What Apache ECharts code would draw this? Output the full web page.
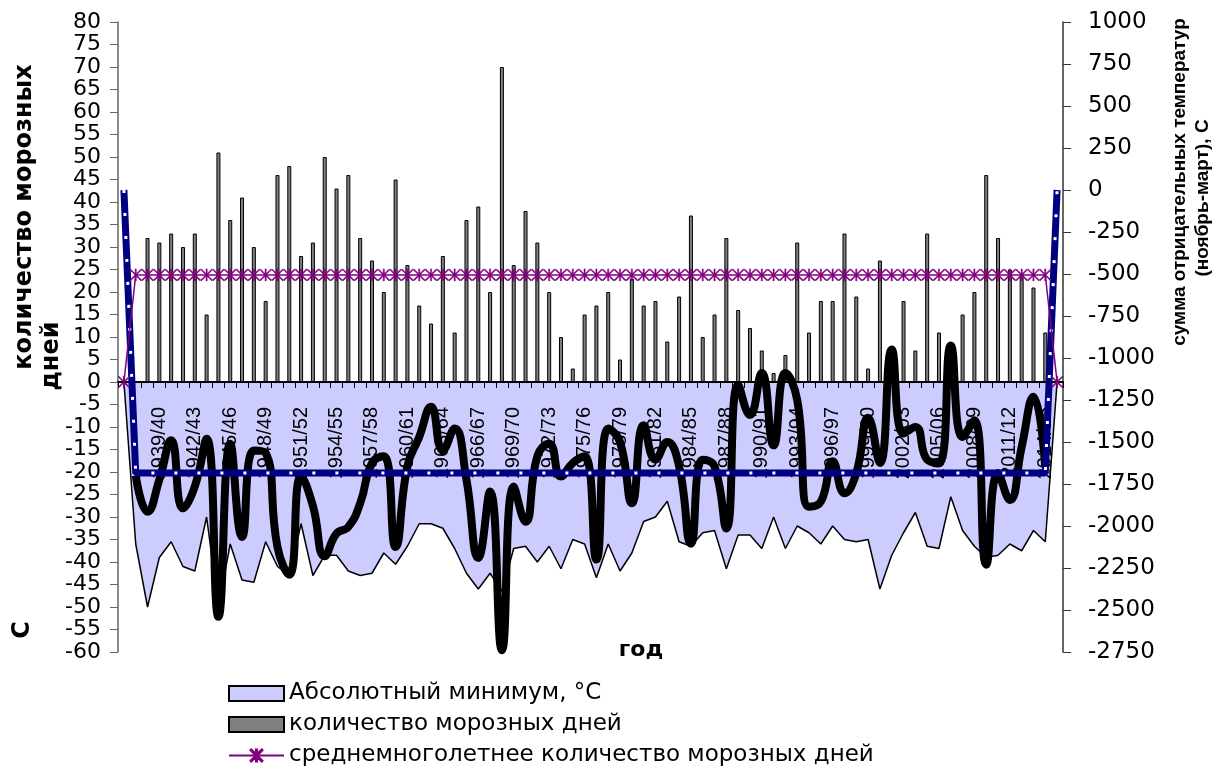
<!DOCTYPE html>
<html>
<head>
<meta charset="utf-8">
<script src="https://cdn.jsdelivr.net/npm/echarts@6/dist/echarts.min.js"></script>
<style>
html, body { margin: 0; padding: 0; background: #fff; }
#chart { width: 1224px; height: 775px; }
</style>
</head>
<body>
<div id="chart"></div>
<script>
// сезоны (ноябрь-март)
var seasons = [
    '1936/37', '1937/38', '1938/39', '1939/40', '1940/41', '1941/42', '1942/43', '1943/44', '1944/45', '1945/46',
    '1946/47', '1947/48', '1948/49', '1949/50', '1950/51', '1951/52', '1952/53', '1953/54', '1954/55', '1955/56',
    '1956/57', '1957/58', '1958/59', '1959/60', '1960/61', '1961/62', '1962/63', '1963/64', '1964/65', '1965/66',
    '1966/67', '1967/68', '1968/69', '1969/70', '1970/71', '1971/72', '1972/73', '1973/74', '1974/75', '1975/76',
    '1976/77', '1977/78', '1978/79', '1979/80', '1980/81', '1981/82', '1982/83', '1983/84', '1984/85', '1985/86',
    '1986/87', '1987/88', '1988/89', '1989/90', '1990/91', '1991/92', '1992/93', '1993/94', '1994/95', '1995/96',
    '1996/97', '1997/98', '1998/99', '1999/00', '2000/01', '2001/02', '2002/03', '2003/04', '2004/05', '2005/06',
    '2006/07', '2007/08', '2008/09', '2009/10', '2010/11', '2011/12', '2012/13', '2013/14', '2014/15', '2015/16'
];
// количество морозных дней (левая ось)
var frostDays = [
    null, null, 32, 31, 33, 30, 33, 15, 51, 36,
    41, 30, 18, 46, 48, 28, 31, 50, 43, 46,
    32, 27, 20, 45, 26, 17, 13, 28, 11, 36,
    39, 20, 70, 26, 38, 31, 20, 10, 3, 15,
    17, 20, 5, 23, 17, 18, 9, 19, 37, 10,
    15, 32, 16, 12, 7, 2, 6, 31, 11, 18,
    18, 33, 19, 3, 27, 4, 18, 7, 33, 11,
    5, 15, 20, 46, 32, 25, 24, 21, 11, null
];
// среднемноголетнее количество морозных дней
var frostDaysAvg = [
    0, 23.8, 23.8, 23.8, 23.8, 23.8, 23.8, 23.8, 23.8, 23.8,
    23.8, 23.8, 23.8, 23.8, 23.8, 23.8, 23.8, 23.8, 23.8, 23.8,
    23.8, 23.8, 23.8, 23.8, 23.8, 23.8, 23.8, 23.8, 23.8, 23.8,
    23.8, 23.8, 23.8, 23.8, 23.8, 23.8, 23.8, 23.8, 23.8, 23.8,
    23.8, 23.8, 23.8, 23.8, 23.8, 23.8, 23.8, 23.8, 23.8, 23.8,
    23.8, 23.8, 23.8, 23.8, 23.8, 23.8, 23.8, 23.8, 23.8, 23.8,
    23.8, 23.8, 23.8, 23.8, 23.8, 23.8, 23.8, 23.8, 23.8, 23.8,
    23.8, 23.8, 23.8, 23.8, 23.8, 23.8, 23.8, 23.8, 23.8, 0
];
// абсолютный минимум, °C (левая ось)
var absMin = [
    0, -36, -50, -39, -35.5, -41, -42, -30, -50, -36,
    -44, -44.5, -35.5, -41, -43, -31.5, -43, -38.5, -38.5, -42,
    -43, -42.5, -38, -40.5, -36.5, -31.5, -31.5, -32.5, -37, -42.5,
    -46, -42.5, -46.5, -37, -36.5, -40, -36.5, -41.5, -35, -36,
    -43.5, -36, -42, -38, -31, -30, -26.5, -35.5, -36.5, -33.5,
    -33, -41.5, -34, -34, -37, -30, -37, -32, -33.5, -36,
    -32, -35, -35.5, -35, -46, -38.5, -33.5, -29, -36.5, -37,
    -25.5, -33, -36.5, -39, -38.5, -36, -37.5, -33, -35.5, 0
];
// сумма отрицательных температур (ноябрь-март) (правая ось)
var sumNeg = [
    null, -1700, -1915, -1725, -1490, -1895, -1765, -1480, -2540, -1510,
    -2065, -1550, -1565, -2125, -2290, -1705, -1880, -2180, -2045, -2005,
    -1865, -1625, -1585, -2125, -1645, -1470, -1290, -1550, -1420, -1725,
    -2190, -1795, -2740, -1765, -1975, -1585, -1510, -1705, -1625, -1585,
    -2200, -1420, -1500, -1865, -1400, -1605, -1500, -1645, -2105, -1605,
    -1645, -2015, -1160, -1340, -1090, -1520, -1090, -1250, -1885, -1855,
    -1615, -1805, -1685, -1355, -1625, -950, -1450, -1410, -1605, -1625,
    -925, -1470, -1370, -2230, -1685, -1845, -1530, -1230, -1650, null
];
// средняя сумма отрицательных температур
var sumNegAvg = [
    0, -1685, -1685, -1685, -1685, -1685, -1685, -1685, -1685, -1685,
    -1685, -1685, -1685, -1685, -1685, -1685, -1685, -1685, -1685, -1685,
    -1685, -1685, -1685, -1685, -1685, -1685, -1685, -1685, -1685, -1685,
    -1685, -1685, -1685, -1685, -1685, -1685, -1685, -1685, -1685, -1685,
    -1685, -1685, -1685, -1685, -1685, -1685, -1685, -1685, -1685, -1685,
    -1685, -1685, -1685, -1685, -1685, -1685, -1685, -1685, -1685, -1685,
    -1685, -1685, -1685, -1685, -1685, -1685, -1685, -1685, -1685, -1685,
    -1685, -1685, -1685, -1685, -1685, -1685, -1685, -1685, -1685, 0
];

// звёздочка как маркер Excel
var starPath = 'path://M5.4,0L6.6,0L6.6,12L5.4,12Z M0,0.8L0.8,0L12,11.2L11.2,12Z M12,0.8L0.8,12L0,11.2L11.2,0Z';

var chartDom = document.getElementById('chart');
var myChart = echarts.init(chartDom);
var option;

option = {
    animation: false,
    backgroundColor: '#fff',
    textStyle: { fontFamily: 'DejaVu Sans' },
    grid: { left: 118, right: 161, top: 22, bottom: 123, containLabel: false },
    legend: {
        orient: 'vertical',
        left: 223,
        top: 677,
        itemWidth: 55,
        itemHeight: 15,
        itemGap: 8,
        textStyle: { fontFamily: 'DejaVu Sans', fontSize: 23, color: '#000' },
        data: [
            { name: 'Абсолютный минимум, °C', icon: 'rect', itemStyle: { color: '#ccccff', borderColor: '#000', borderWidth: 2 } },
            { name: 'количество морозных дней', icon: 'rect', itemStyle: { color: '#808080', borderColor: '#000', borderWidth: 2 } },
            { name: 'среднемноголетнее количество морозных дней' }
        ]
    },
    xAxis: {
        type: 'category',
        data: seasons,
        boundaryGap: true,
        // ось поднята к нулю левой шкалы (630 px на 140 единиц, 0 на 80 ед. ниже верха)
        offset: -270,
        axisLine: { onZero: false, lineStyle: { color: '#000', width: 2 } },
        axisTick: { show: true, interval: 0, length: 6, lineStyle: { color: '#000', width: 1 } },
        axisLabel: {
            rotate: 90,
            margin: 25,
            fontFamily: 'Liberation Sans',
            fontSize: 20,
            color: '#000',
            interval: function (index) {
                return index >= 3 && index % 3 === 0;
            }
        },
        splitLine: { show: false }
    },
    yAxis: [
        {
            type: 'value',
            min: -60,
            max: 80,
            interval: 5,
            position: 'left',
            axisLine: { show: true, lineStyle: { color: '#666', width: 1.5 } },
            axisTick: { show: true, length: 8, lineStyle: { color: '#666' } },
            axisLabel: {
                fontFamily: 'DejaVu Sans', fontSize: 22, lineHeight: 18, color: '#000', margin: 17,
                showMinLabel: true, showMaxLabel: true, hideOverlap: false,
                formatter: function (v) { return String(v); }
            },
            splitLine: { show: false }
        },
        {
            type: 'value',
            min: -2750,
            max: 1000,
            interval: 250,
            position: 'right',
            axisLine: { show: true, lineStyle: { color: '#333', width: 1.5 } },
            axisTick: { show: true, length: 8, lineStyle: { color: '#333' } },
            axisLabel: {
                fontFamily: 'DejaVu Sans', fontSize: 23, lineHeight: 18, color: '#000', margin: 25,
                showMinLabel: true, showMaxLabel: true, hideOverlap: false,
                formatter: function (v) { return String(v); }
            },
            splitLine: { show: false }
        }
    ],
    graphic: [
        { type: 'text', x: 25, y: 217, rotation: Math.PI / 2, style: { text: 'количество морозных', font: 'bold 24px "DejaVu Sans"', fill: '#000', textAlign: 'center', textVerticalAlign: 'middle' } },
        { type: 'text', x: 52, y: 356, rotation: Math.PI / 2, style: { text: 'дней', font: 'bold 24px "DejaVu Sans"', fill: '#000', textAlign: 'center', textVerticalAlign: 'middle' } },
        { type: 'text', x: 23, y: 630, rotation: Math.PI / 2, style: { text: 'С', font: 'bold 24px "DejaVu Sans"', fill: '#000', textAlign: 'center', textVerticalAlign: 'middle' } },
        { type: 'text', x: 1180, y: 182, rotation: Math.PI / 2, style: { text: 'сумма отрицательных температур', font: 'bold 19px "Liberation Sans"', fill: '#000', textAlign: 'center', textVerticalAlign: 'middle' } },
        { type: 'text', x: 1203, y: 198, rotation: Math.PI / 2, style: { text: '(ноябрь-март), С', font: 'bold 19px "Liberation Sans"', fill: '#000', textAlign: 'center', textVerticalAlign: 'middle' } },
        { type: 'text', x: 641, y: 650, style: { text: 'год', font: 'bold 22px "DejaVu Sans"', fill: '#000', textAlign: 'center', textVerticalAlign: 'middle' } }
    ],
    series: [
        {
            name: 'Абсолютный минимум, °C',
            type: 'line',
            yAxisIndex: 0,
            data: absMin,
            symbol: 'none',
            z: -1,
            lineStyle: { color: '#000', width: 1.5 },
            itemStyle: { color: '#000' },
            areaStyle: { color: '#ccccff', opacity: 1 }
        },
        {
            name: 'количество морозных дней',
            type: 'bar',
            yAxisIndex: 0,
            data: frostDays,
            barWidth: 4,
            z: 2,
            itemStyle: { color: '#808080', borderColor: '#000', borderWidth: 1 }
        },
        {
            name: 'сумма отрицательных температур',
            type: 'line',
            yAxisIndex: 1,
            data: sumNeg,
            smooth: true,
            symbol: 'none',
            z: 4,
            lineStyle: { color: '#000', width: 8 },
            itemStyle: { color: '#000' }
        },
        {
            name: 'средняя сумма отрицательных температур',
            type: 'line',
            yAxisIndex: 1,
            data: sumNegAvg,
            symbol: 'none',
            z: 5,
            lineStyle: { color: '#000080', width: 7 },
            itemStyle: { color: '#000080' }
        },
        {
            name: 'средняя сумма (штрих)',
            type: 'line',
            yAxisIndex: 1,
            data: sumNegAvg,
            symbol: 'none',
            silent: true,
            z: 6,
            lineStyle: { color: '#fff', width: 3, type: [3, 20] },
            itemStyle: { color: '#fff' }
        },
        {
            name: 'среднемноголетнее количество морозных дней',
            type: 'line',
            yAxisIndex: 0,
            data: frostDaysAvg,
            symbol: starPath,
            symbolSize: 12,
            showAllSymbol: true,
            z: 7,
            lineStyle: { color: '#800080', width: 1.5 },
            itemStyle: { color: '#800080', borderColor: '#800080', borderWidth: 0.5 }
        }
    ]
};

option && myChart.setOption(option);
</script>
</body>
</html>
